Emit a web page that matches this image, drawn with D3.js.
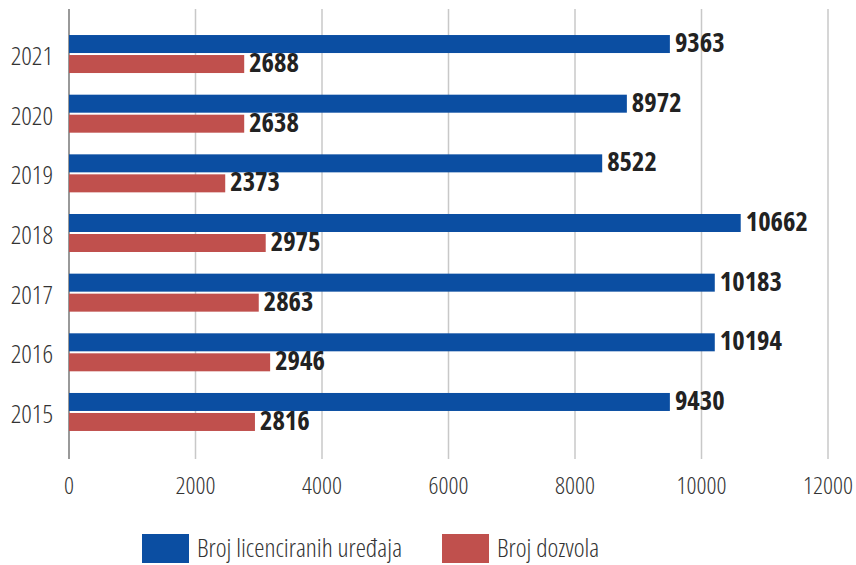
<!DOCTYPE html>
<html><head><meta charset="utf-8">
<script src="https://cdn.jsdelivr.net/npm/d3@7"></script>
<style>
body{margin:0;background:#fff;}
svg text{font-family:"Open Sans","Liberation Sans Narrow",sans-serif;font-stretch:75%;}
</style></head>
<body><svg id="c" width="856" height="565"></svg>
<script>
const years = ["2021","2020","2019","2018","2017","2016","2015"];
// value labels as printed in the chart
const devicesLabels = [9363, 8972, 8522, 10662, 10183, 10194, 9430];
const permitsLabels = [2688, 2638, 2373, 2975, 2863, 2946, 2816];
// bar lengths
const devicesBars = [9500, 8820, 8430, 10620, 10210, 10210, 9500];
const permitsBars = [2770, 2770, 2470, 3110, 3000, 3180, 2940];
const xTicks = [0, 2000, 4000, 6000, 8000, 10000, 12000];
const seriesNames = ["Broj licenciranih uređaja", "Broj dozvola"];
const colors = ["#0b4ea2", "#c0504d"];

const svg = d3.select("#c");
const x = d3.scaleLinear().domain([0,12000]).range([69,828]);
const y = d3.scaleBand().domain(years).range([24.2,441.8]);
const plotTop = 9, plotBottom = 459;
const barH = 18, gap = 2;

// gridlines
svg.append("g").selectAll("line").data(xTicks).join("line")
  .attr("x1",d=>x(d)).attr("x2",d=>x(d)).attr("y1",plotTop).attr("y2",plotBottom)
  .attr("stroke",d=>d===0?"#999":"#c8c8c8").attr("stroke-width",d=>d===0?2:1.5);

// x tick labels
svg.append("g").selectAll("text").data(xTicks).join("text")
  .attr("x",d=>x(d)).attr("y",494).attr("text-anchor","middle")
  .attr("font-size",24.5).attr("font-weight",300).attr("fill","#333")
  .text(d=>d);

// year labels
svg.append("g").selectAll("text").data(years).join("text")
  .attr("x",53).attr("y",d=>y(d)+y.bandwidth()/2+11).attr("text-anchor","end")
  .attr("font-size",26).attr("font-weight",300).attr("fill","#333")
  .text(d=>d);

const series = [[devicesBars, devicesLabels], [permitsBars, permitsLabels]];
series.forEach(([vals, labels],si)=>{
  const g = svg.append("g");
  const yOff = i=>y(years[i])+y.bandwidth()/2 - barH - gap/2 + si*(barH+gap);
  const idx = vals.map((v,i)=>i);
  g.selectAll("rect").data(idx).join("rect")
    .attr("x",x(0)).attr("y",yOff)
    .attr("width",i=>x(vals[i])-x(0)).attr("height",barH)
    .attr("fill",colors[si]);
  g.selectAll("text").data(idx).join("text")
    .attr("x",i=>x(vals[i])+5).attr("y",i=>yOff(i)+barH/2+8)
    .attr("font-size",26.5).attr("font-weight",700).attr("fill","#222")
    .text(i=>labels[i]);
});

// legend
const legX = [142, 442];
seriesNames.forEach((n,i)=>{
  svg.append("rect").attr("x",legX[i]).attr("y",534).attr("width",47).attr("height",29).attr("fill",colors[i]);
  svg.append("text").attr("x",legX[i]+55).attr("y",557).attr("font-size",25.8).attr("font-weight",300)
    .attr("fill","#333").text(n);
});
</script></body></html>
